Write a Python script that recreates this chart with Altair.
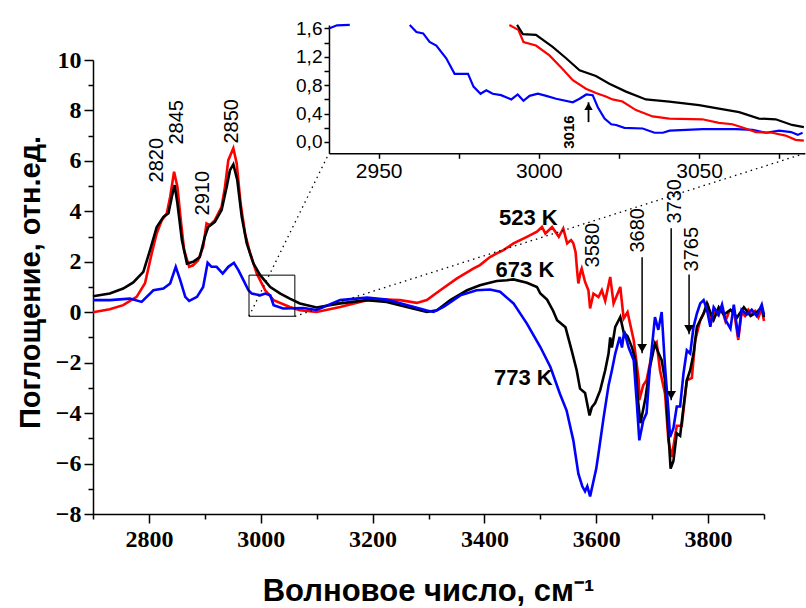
import altair as alt
import pandas as pd

# ---------------- data ----------------
red_v = [2700, 2730, 2754, 2778, 2793, 2805, 2814, 2823, 2832, 2838, 2845, 2851, 2857, 2863, 2872, 2879, 2888, 2897,
         2903, 2909, 2918, 2930, 2936, 2942, 2951, 2957, 2964, 2972, 2981, 2993, 3008, 3023, 3052, 3070, 3100, 3142,
         3190, 3225, 3249, 3279, 3297, 3321, 3351, 3380, 3392, 3410, 3422, 3434, 3452, 3476, 3494, 3503, 3509, 3521,
         3533, 3541, 3548, 3555, 3559, 3563, 3566, 3568, 3572, 3574, 3580, 3586, 3589, 3595, 3604, 3610, 3616, 3625,
         3631, 3643, 3649, 3656, 3667, 3676, 3677, 3684, 3690, 3702, 3708, 3714, 3723, 3729, 3735, 3744, 3753, 3762,
         3771, 3777, 3786, 3795, 3800, 3806, 3812, 3818, 3824, 3831, 3838, 3846, 3854, 3860, 3866, 3872, 3878, 3884,
         3890, 3896, 3900]
red_a = [0.0, 0.12, 0.28, 0.61, 1.15, 2.33, 3.13, 3.65, 3.92, 4.58, 5.57, 4.97, 3.65, 2.46, 1.80, 1.86, 2.06, 2.59,
         3.52, 3.45, 3.65, 4.18, 4.97, 6.03, 6.50, 5.90, 4.31, 3.12, 2.33, 1.53, 0.87, 0.48, 0.21, 0.08, 0.01, 0.21,
         0.48, 0.50, 0.48, 0.37, 0.48, 0.87, 1.34, 1.73, 1.87, 2.19, 2.33, 2.46, 2.73, 2.99, 3.19, 3.38, 3.12, 3.38,
         2.99, 3.32, 2.73, 2.86, 2.73, 2.39, 1.60, 1.14, 1.60, 1.73, 1.20, 0.87, 0.15, 0.74, 0.60, 0.87, 0.45, 1.40,
         0.35, 1.00, -0.25, 0.0, -1.11, -2.70, -3.49, -2.90, -2.70, -1.38, -1.20, -2.30, -3.23, -5.08, -5.74, -4.50,
         -4.50, -2.70, -2.60, -1.11, -0.32, 0.08, 0.25, -0.35, 0.10, -0.10, 0.20, -0.35, 0.05, 0.10, -1.10, 0.0,
         -0.15, 0.10, -0.10, 0.05, -0.20, 0.15, -0.35]

black_v = [2700, 2730, 2754, 2772, 2790, 2802, 2814, 2826, 2835, 2841, 2846, 2851, 2859, 2868, 2879, 2891, 2900, 2906,
           2918, 2930, 2939, 2945, 2951, 2958, 2966, 2975, 2987, 2999, 3017, 3035, 3052, 3070, 3100, 3142, 3190, 3225,
           3261, 3297, 3315, 3339, 3369, 3392, 3404, 3422, 3440, 3452, 3476, 3494, 3500, 3512, 3523, 3530, 3545, 3556,
           3565, 3571, 3580, 3588, 3592, 3598, 3607, 3616, 3622, 3625, 3628, 3634, 3643, 3649, 3656, 3664, 3670, 3674,
           3679, 3688, 3696, 3705, 3711, 3717, 3723, 3729, 3733, 3738, 3744, 3750, 3756, 3762, 3768, 3774, 3780, 3792,
           3798, 3804, 3810, 3819, 3828, 3840, 3852, 3864, 3876, 3887, 3896, 3900]
black_a = [0.63, 0.74, 0.94, 1.18, 1.60, 2.46, 3.38, 3.78, 3.92, 4.58, 5.04, 4.31, 2.86, 1.93, 2.00, 2.19, 2.99, 3.38,
           3.58, 4.05, 4.97, 5.63, 5.86, 5.24, 3.78, 2.73, 1.93, 1.47, 1.00, 0.74, 0.54, 0.35, 0.19, 0.35, 0.48, 0.41,
           0.21, 0.01, 0.08, 0.48, 0.87, 1.07, 1.14, 1.24, 1.27, 1.30, 1.17, 1.00, 0.74, 0.50, 0.05, -0.32, -0.60, -1.51,
           -2.30, -3.03, -3.20, -4.09, -3.77, -3.60, -3.10, -2.30, -1.64, -1.00, -1.40, -0.58, -0.19, -0.80, -0.95, -1.40,
           -1.90, -3.36, -4.40, -3.40, -2.17, -1.25, -1.60, -1.90, -2.70, -4.80, -6.20, -5.90, -4.80, -4.90, -3.76,
           -2.70, -2.30, -1.64, -0.58, -0.05, 0.35, 0.0, -0.30, 0.20, -0.10, 0.10, -0.20, 0.20, -0.15, 0.0, 0.20, -0.20]

blue_v = [2700, 2730, 2766, 2787, 2808, 2826, 2838, 2848, 2856, 2865, 2872, 2886, 2897, 2905, 2912, 2921, 2932, 2942,
          2952, 2960, 2969, 2978, 2984, 2999, 3008, 3017, 3023, 3040, 3076, 3100, 3142, 3190, 3225, 3261, 3297, 3309,
          3327, 3357, 3386, 3410, 3428, 3452, 3476, 3500, 3518, 3535, 3547, 3559, 3568, 3575, 3580, 3584, 3589, 3594,
          3600, 3604, 3613, 3622, 3628, 3634, 3642, 3646, 3650, 3658, 3667, 3673, 3677, 3684, 3690, 3696, 3705, 3711,
          3717, 3723, 3729, 3732, 3738, 3744, 3750, 3756, 3762, 3768, 3774, 3780, 3786, 3792, 3798, 3804, 3810, 3819,
          3825, 3831, 3840, 3846, 3854, 3860, 3869, 3878, 3887, 3896, 3900]
blue_a = [0.48, 0.48, 0.54, 0.41, 0.87, 0.94, 1.14, 1.80, 1.27, 0.61, 0.45, 0.61, 1.00, 1.96, 1.80, 1.80, 1.53, 1.80,
          1.96, 1.67, 1.27, 0.87, 0.74, 0.67, 0.74, 0.67, 0.28, 0.15, 0.17, 0.09, 0.48, 0.58, 0.50, 0.29, 0.07, 0.01,
          0.21, 0.67, 0.87, 0.90, 0.81, 0.35, -0.45, -1.38, -2.17, -3.23, -3.90, -5.08, -6.40, -6.90, -7.10, -6.90,
          -7.30, -6.80, -6.20, -5.60, -4.20, -2.90, -2.30, -1.64, -0.98, -1.40, -0.75, -1.40, -1.90, -3.74, -5.08,
          -4.30, -4.00, -2.17, -0.19, -0.70, 0.01, -2.17, -3.87, -4.95, -4.60, -3.74, -3.74, -2.43, -1.51, -1.64,
          -0.58, -0.05, 0.35, 0.48, 0.10, -0.58, 0.20, -0.10, 0.30, -0.30, -0.65, 0.30, -0.98, 0.10, -0.10, 0.10,
          -0.15, 0.30, -0.10]

# inset (zoomed region)
in_red_v = [2990.8, 2993.6, 2995.2, 2999.1, 3003.3, 3007.4, 3010.6, 3014.7, 3017.8, 3020.9, 3023.0, 3026.1, 3030.3,
            3035.5, 3040.7, 3051.0, 3056.2, 3060.4, 3064.5, 3067.7, 3072.8, 3077.0, 3080.1, 3082.7]
in_red_a = [1.65, 1.58, 1.41, 1.36, 1.22, 1.03, 0.87, 0.75, 0.69, 0.64, 0.60, 0.57, 0.45, 0.36, 0.33, 0.32, 0.27,
            0.25, 0.19, 0.14, 0.13, 0.09, 0.03, 0.02]
in_black_v = [2993.2, 2995.0, 2999.1, 3004.3, 3008.5, 3012.7, 3017.8, 3022.0, 3027.2, 3033.4, 3040.7, 3050.0, 3056.2,
              3062.5, 3068.7, 3073.9, 3079.0, 3082.7]
in_black_a = [1.65, 1.52, 1.51, 1.34, 1.18, 1.01, 0.93, 0.82, 0.71, 0.60, 0.57, 0.52, 0.47, 0.42, 0.33, 0.32, 0.24,
              0.21]
in_blue1_v = [2934.5, 2937.0, 2941.0]
in_blue1_a = [1.60, 1.645, 1.65]
in_blue2_v = [2959.7, 2961.8, 2963.9, 2965.9, 2968.0, 2971.1, 2973.7, 2977.9, 2979.6, 2981.8, 2983.6, 2985.6, 2988.2,
              2991.4, 2993.4, 2995.2, 2997.1, 2999.7, 3002.3, 3005.4, 3010.6, 3012.7, 3014.8, 3016.8, 3018.4, 3020.5,
              3022.6, 3024.1, 3026.7, 3032.4, 3036.1, 3038.7, 3040.8, 3051.2, 3061.5, 3066.7, 3070.9, 3075.0, 3078.7,
              3080.8, 3082.3]
in_blue2_a = [1.65, 1.55, 1.53, 1.41, 1.36, 1.18, 0.96, 0.96, 0.78, 0.68, 0.73, 0.68, 0.66, 0.60, 0.67, 0.58, 0.65,
              0.68, 0.65, 0.61, 0.56, 0.61, 0.67, 0.66, 0.49, 0.33, 0.25, 0.24, 0.20, 0.19, 0.13, 0.13, 0.16, 0.18,
              0.18, 0.17, 0.13, 0.16, 0.14, 0.10, 0.13]

peak_labels = ["2820", "2845", "2910", "2850", "3580", "3680", "3730", "3765"]
peak_x = [2814.5, 2850.2, 2896.7, 2948.6, 3594.1, 3674.6, 3740.8, 3771.2]
peak_y = [6.03, 7.53, 4.72, 7.57, 2.66, 3.25, 4.40, 2.50]

temp_labels = ["523 K", "673 K", "773 K"]
temp_x = [3426, 3420, 3417]
temp_y = [3.73, 1.67, -2.62]

arrow_x = [3682, 3734, 3766]
arrow_top = [2.18, 3.33, 1.50]
arrow_tip = [-1.63, -3.49, -0.87]

inset_arrow_x = [3015.5]
inset_arrow_base = [0.28]
inset_arrow_tip = [0.56]
inset_note = ["3016"]
inset_note_x = [3009.3]
inset_note_y = [0.14]

zoom_box_x = [2979, 3061]
zoom_box_y = [-0.16, 1.47]

# inset placement expressed in main-chart data units
inset_left_v, inset_right_v = 3122, 3973
inset_bottom_a, inset_top_a = 6.30, 11.39
inset_x_dom = [2934.5, 3083]
inset_y_dom = [-0.16, 1.65]

# ---------------- layout ----------------
W, H = 671, 454
X_DOM = [2700, 3900]
Y_DOM = [-8, 10]


def main_px(v):
    return (v - X_DOM[0]) / (X_DOM[1] - X_DOM[0]) * W


def main_py(a):
    return (Y_DOM[1] - a) / (Y_DOM[1] - Y_DOM[0]) * H


FONT = "Liberation Sans"
NARROW = "Liberation Sans Narrow"

xs = alt.Scale(domain=X_DOM, nice=False, zero=False)
ys = alt.Scale(domain=Y_DOM, nice=False, zero=False)
ixs = alt.Scale(domain=inset_x_dom, range=[main_px(inset_left_v), main_px(inset_right_v)], nice=False, zero=False)
iys = alt.Scale(domain=inset_y_dom, range=[main_py(inset_bottom_a), main_py(inset_top_a)], nice=False, zero=False)

x_axis = alt.Axis(
    values=list(range(2700, 3901, 100)),
    labelExpr="datum.value % 200 === 0 ? datum.label : ''",
    format="d",
    labelFont=NARROW, labelFontWeight="bold", labelFontSize=24, labelPadding=4,
    tickSize={"condition": {"test": "datum.value % 200 === 0", "value": 9}, "value": 5},
    title="Волновое число, см⁻¹", titleFont=FONT, titleFontWeight="bold", titleFontSize=31,
    titleX=335, titleY=77, titleAlign="center", titleBaseline="middle",
)
y_axis = alt.Axis(
    values=list(range(-8, 11)),
    labelExpr="datum.value % 2 === 0 ? datum.label : ''",
    format="d",
    labelFont=NARROW, labelFontWeight="bold", labelFontSize=24, labelPadding=3,
    tickSize={"condition": {"test": "datum.value % 2 === 0", "value": 9}, "value": 5},
    title="Поглощение, отн.ед.", titleFont=FONT, titleFontWeight="bold", titleFontSize=29,
    titleX=-63, titleY=222, titleAngle=270, titleAlign="center", titleBaseline="middle",
)
ix_axis = alt.Axis(
    orient="bottom", offset=-(H - main_py(inset_bottom_a)),
    values=[2950, 2975, 3000, 3025, 3050, 3075],
    labelExpr="datum.value % 50 === 0 ? datum.label : ''",
    format="d", labelFont=FONT, labelFontSize=21, labelPadding=2, tickSize=5, title=None,
)
iy_axis = alt.Axis(
    orient="left", offset=-main_px(inset_left_v),
    values=[0, 0.2, 0.4, 0.6, 0.8, 1.0, 1.2, 1.4, 1.6],
    labelExpr="round(datum.value * 10) % 4 === 0 ? replace(format(datum.value, '.1f'), '.', ',') : ''",
    labelFont=FONT, labelFontSize=19, labelPadding=2, tickSize=5, title=None,
)


def MX(f):
    return alt.X(f, scale=xs, axis=x_axis)


def MY(f):
    return alt.Y(f, scale=ys, axis=y_axis)


def IX(f):
    return alt.X(f, scale=ixs, axis=ix_axis)


def IY(f):
    return alt.Y(f, scale=iys, axis=iy_axis)


def series_df(v, a):
    return pd.DataFrame({"v": v, "a": a})


def main_line(v, a, color):
    return alt.Chart(series_df(v, a)).mark_line(color=color, strokeWidth=2.6).encode(
        x=MX("v:Q"), y=MY("a:Q"))


red_line = main_line(red_v, red_a, "#ff0000")
black_line = main_line(black_v, black_a, "#000000")
blue_line = main_line(blue_v, blue_a, "#0000ff")

peaks = alt.Chart(pd.DataFrame({"t": peak_labels, "v": peak_x, "a": peak_y})).mark_text(
    angle=270, align="center", baseline="middle", font=FONT, fontSize=20, color="black"
).encode(x=MX("v:Q"), y=MY("a:Q"), text="t:N")

temps = alt.Chart(pd.DataFrame({"t": temp_labels, "v": temp_x, "a": temp_y})).mark_text(
    align="left", baseline="middle", font=FONT, fontSize=22, fontWeight="bold", color="black"
).encode(x=MX("v:Q"), y=MY("a:Q"), text="t:N")

arr_df = pd.DataFrame({"v": arrow_x, "top": arrow_top, "tip": arrow_tip})
arr_lines = alt.Chart(arr_df).mark_rule(color="black", strokeWidth=1.5).encode(
    x=MX("v:Q"), y=MY("top:Q"), y2="tip:Q")
arr_heads = alt.Chart(arr_df).mark_point(shape="triangle-down", filled=True, color="black", size=95,
                                         opacity=1, yOffset=-5).encode(x=MX("v:Q"), y=MY("tip:Q"))

box = alt.Chart(pd.DataFrame({"x0": [zoom_box_x[0]], "x1": [zoom_box_x[1]],
                              "y0": [zoom_box_y[0]], "y1": [zoom_box_y[1]]})).mark_rect(
    fillOpacity=0, stroke="black", strokeWidth=1).encode(
    x=MX("x0:Q"), x2="x1:Q", y=MY("y0:Q"), y2="y1:Q")

conn = alt.Chart(pd.DataFrame({
    "x0": [zoom_box_x[0], zoom_box_x[1]], "y0": [zoom_box_y[0], zoom_box_y[0]],
    "x1": [inset_left_v, inset_right_v], "y1": [inset_bottom_a, inset_bottom_a]})).mark_rule(
    color="black", strokeWidth=1.3, strokeDash=[1.5, 4]).encode(
    x=MX("x0:Q"), y=MY("y0:Q"), x2="x1:Q", y2="y1:Q")

main_layer = alt.layer(red_line, black_line, blue_line, box, conn, arr_lines, arr_heads, peaks, temps)


def inset_line(v, a, color, seg=None):
    df = series_df(v, a)
    df["seg"] = seg if seg is not None else 0
    return alt.Chart(df).mark_line(color=color, strokeWidth=2.2).encode(
        x=IX("v:Q"), y=IY("a:Q"), detail="seg:N")


in_blue = inset_line(in_blue1_v + in_blue2_v, in_blue1_a + in_blue2_a, "#0000ff",
                     seg=[1] * len(in_blue1_v) + [2] * len(in_blue2_v))
in_red = inset_line(in_red_v, in_red_a, "#ff0000")
in_black = inset_line(in_black_v, in_black_a, "#000000")

iarr_df = pd.DataFrame({"v": inset_arrow_x, "base": inset_arrow_base, "tip": inset_arrow_tip})
iarr_line = alt.Chart(iarr_df).mark_rule(color="black", strokeWidth=1.8).encode(
    x=IX("v:Q"), y=IY("base:Q"), y2="tip:Q")
iarr_head = alt.Chart(iarr_df).mark_point(shape="triangle-up", filled=True, color="black", size=70,
                                          opacity=1, yOffset=4).encode(x=IX("v:Q"), y=IY("tip:Q"))
inote = alt.Chart(pd.DataFrame({"t": inset_note, "v": inset_note_x, "a": inset_note_y})).mark_text(
    angle=270, align="center", baseline="middle", font=FONT, fontSize=15, fontWeight="bold", color="black"
).encode(x=IX("v:Q"), y=IY("a:Q"), text="t:N")

inset_layer = alt.layer(in_blue, in_red, in_black, iarr_line, iarr_head, inote)

chart = alt.layer(main_layer, inset_layer).resolve_scale(x="independent", y="independent").properties(
    width=W, height=H,
    autosize=alt.AutoSizeParams(type="none"),
    padding={"left": 93, "top": 60, "right": 42, "bottom": 94},
    background="white",
).configure_axis(
    grid=False, domainColor="black", tickColor="black", labelColor="black", titleColor="black",
    domainWidth=1.5, tickWidth=1.5,
).configure_view(stroke="transparent")

chart.save("out.html", embed_options={"renderer": "svg", "actions": False})
